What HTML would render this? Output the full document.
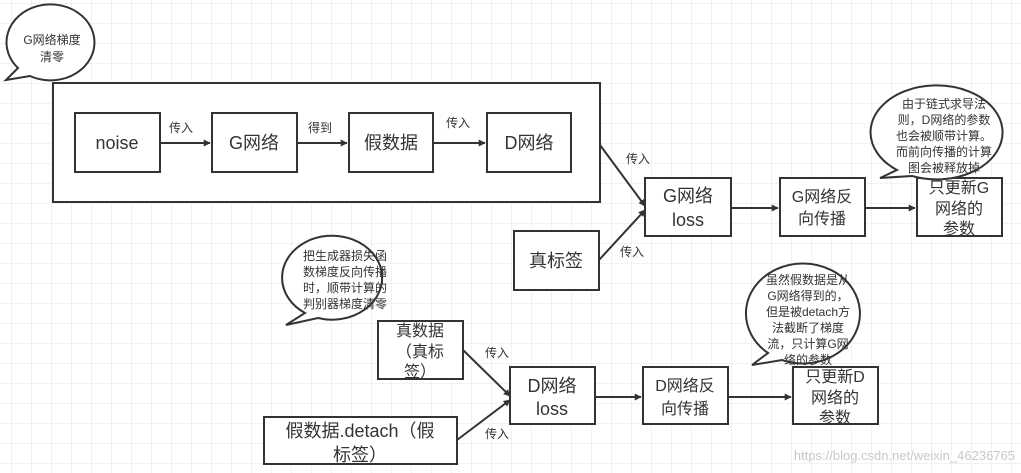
<!DOCTYPE html>
<html><head><meta charset="utf-8"><style>
html,body{margin:0;padding:0;background:#fff;}
svg{display:block;}
text{font-family:"Liberation Sans","Noto Sans CJK SC",sans-serif;fill:#333;}
</style></head><body>
<svg width="1021" height="473" viewBox="0 0 1021 473" xmlns="http://www.w3.org/2000/svg">
<defs>
<pattern id="g" width="20" height="20" patternUnits="userSpaceOnUse" x="12" y="4">
<path d="M20 0V20M0 20H20" fill="none" stroke="#e6e6e6" stroke-width="1"/>
</pattern>
<marker id="a" viewBox="0 0 10 10" refX="9" refY="5" markerWidth="7" markerHeight="7" orient="auto" markerUnits="userSpaceOnUse">
<path d="M0,0L10,5L0,10z" fill="#333"/>
</marker>
</defs>
<rect width="1021" height="473" fill="url(#g)"/>
<g fill="#fff" stroke="#333" stroke-width="2">
<rect x="53" y="83" width="547" height="119"/>
<rect x="75" y="113" width="85" height="59"/>
<rect x="212" y="113" width="85" height="59"/>
<rect x="349" y="113" width="84" height="59"/>
<rect x="487" y="113" width="84" height="59"/>
<rect x="645" y="178" width="86" height="58"/>
<rect x="514" y="231" width="85" height="59"/>
<rect x="780" y="178" width="85" height="58"/>
<rect x="917" y="178" width="85" height="58"/>
<rect x="378" y="321" width="85" height="58"/>
<rect x="264" y="417" width="193" height="47"/>
<rect x="510" y="367" width="85" height="57"/>
<rect x="643" y="367" width="85" height="57"/>
<rect x="793" y="367" width="85" height="57"/>
</g>
<g stroke="#333" stroke-width="2" fill="none" marker-end="url(#a)">
<line x1="160" y1="143" x2="210" y2="143"/>
<line x1="297" y1="143" x2="347" y2="143"/>
<line x1="433" y1="143" x2="485" y2="143"/>
<line x1="600" y1="145" x2="645" y2="206"/>
<line x1="599" y1="260" x2="645" y2="210"/>
<line x1="731" y1="208" x2="778" y2="208"/>
<line x1="865" y1="208" x2="915" y2="208"/>
<line x1="463" y1="350" x2="510" y2="396"/>
<line x1="457" y1="440" x2="510" y2="400"/>
<line x1="595" y1="397" x2="641" y2="397"/>
<line x1="728" y1="397" x2="791" y2="397"/>
</g>
<!-- bubbles -->
<g fill="#fff" stroke="#333" stroke-width="2">
<path d="M18,68 A44,38 0 1 1 30,76 L6,80 Z"/>
<path d="M897,170 A66,47 0 1 1 912,176 L880,178 Z"/>
<path d="M305,313 A50,42 0 1 1 318,318 L286,325 Z"/>
<path d="M768,353 A57,50 0 1 1 782,360 L752,365 Z"/>
</g>
<g font-size="12" text-anchor="middle">
<text x="52" y="44">G网络梯度</text><text x="52" y="61">清零</text>
<text x="944" y="108">由于链式求导法</text>
<text x="944" y="124">则，D网络的参数</text>
<text x="944" y="140">也会被顺带计算。</text>
<text x="944" y="156">而前向传播的计算</text>
<text x="944" y="172">图会被释放掉</text>
<text x="345" y="260">把生成器损失函</text>
<text x="345" y="276">数梯度反向传播</text>
<text x="345" y="292">时，顺带计算的</text>
<text x="345" y="308">判别器梯度清零</text>
<text x="808" y="284">虽然假数据是从</text>
<text x="808" y="300">G网络得到的，</text>
<text x="808" y="316">但是被detach方</text>
<text x="808" y="332">法截断了梯度</text>
<text x="808" y="348">流，只计算G网</text>
<text x="808" y="364">络的参数</text>
<text x="181" y="132">传入</text>
<text x="320" y="132">得到</text>
<text x="458" y="127">传入</text>
<text x="638" y="163">传入</text>
<text x="632" y="256">传入</text>
<text x="497" y="357">传入</text>
<text x="497" y="438">传入</text>
</g>
<g font-size="18" text-anchor="middle">
<text x="117" y="149">noise</text>
<text x="254" y="149">G网络</text>
<text x="391" y="149">假数据</text>
<text x="529" y="149">D网络</text>
<text x="688" y="202">G网络</text><text x="688" y="226">loss</text>
<text x="556" y="267">真标签</text>
<text x="822" y="202" font-size="16">G网络反</text><text x="822" y="224" font-size="16">向传播</text>
<text x="959" y="193" font-size="16">只更新G</text><text x="959" y="214" font-size="16">网络的</text><text x="959" y="234" font-size="16">参数</text>
<text x="420" y="336" font-size="16">真数据</text><text x="420" y="357" font-size="16">（真标</text><text x="420" y="377" font-size="16">签）</text>
<text x="360" y="437">假数据.detach（假</text><text x="360" y="461">标签）</text>
<text x="552" y="392">D网络</text><text x="552" y="415">loss</text>
<text x="685" y="391" font-size="16">D网络反</text><text x="685" y="414" font-size="16">向传播</text>
<text x="835" y="382" font-size="16">只更新D</text><text x="835" y="403" font-size="16">网络的</text><text x="835" y="423" font-size="16">参数</text>
</g>
<text x="1015" y="460" font-size="13" text-anchor="end" style="fill:#c8c8c8">https://blog.csdn.net/weixin_46236765</text>
</svg>
</body></html>
